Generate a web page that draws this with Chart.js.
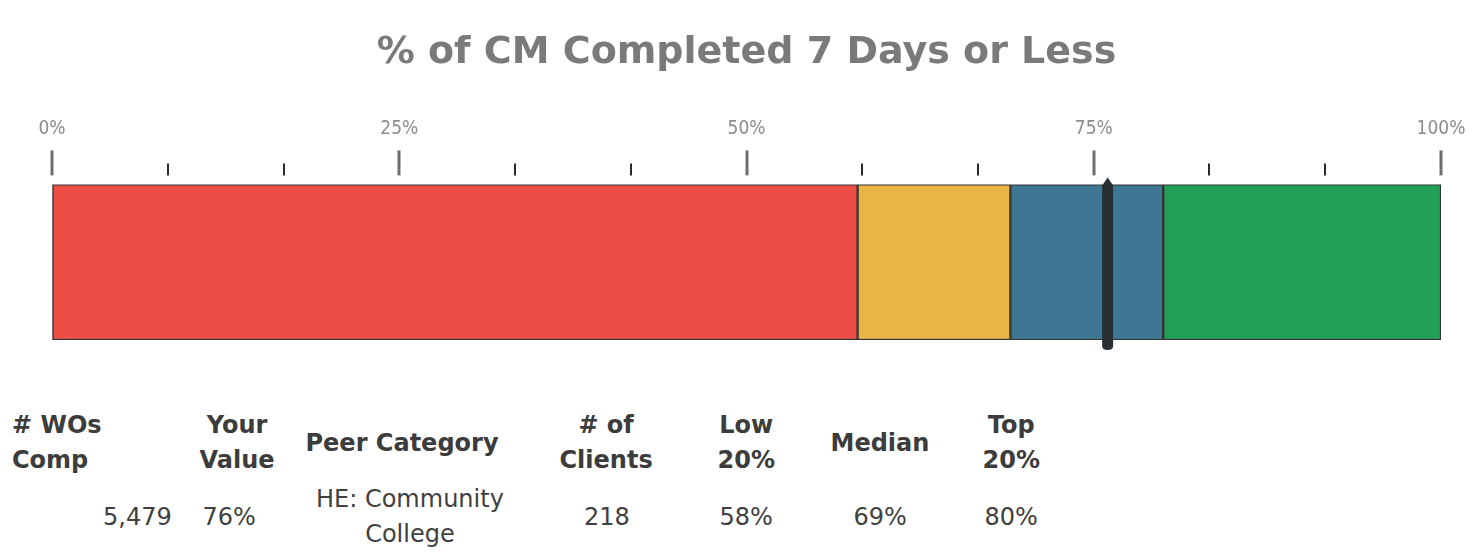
<!DOCTYPE html>
<html>
<head>
<meta charset="utf-8">
<script src="https://cdn.jsdelivr.net/npm/chart.js@4.4.1/dist/chart.umd.min.js"></script>
<style>
  html, body { margin: 0; padding: 0; background: #ffffff; }
  #wrap { position: relative; width: 1472px; height: 557px; overflow: hidden; }
  #chartBox { position: absolute; left: 0; top: 0; width: 1472px; height: 380px; }
  .cell { position: absolute; font-family: "DejaVu Sans", sans-serif; color: #3c3c3c; line-height: 35px; white-space: pre; }
  .hdr { font-weight: bold; font-size: 24px; }
  .val { font-size: 24px; color: #404040; }
</style>
</head>
<body>
<div id="wrap">
  <div id="chartBox"><canvas id="c"></canvas></div>
  <div id="table"></div>
</div>
<script>
// ---- data ----
const chartTitle = '% of CM Completed 7 Days or Less';
const segmentNames = ['Low', 'Lower-Mid', 'Upper-Mid', 'Top'];
const segmentStarts = [0, 58, 69, 80];
const segmentEnds = [58, 69, 80, 100];
const segmentColors = ['#EE4D45', '#EAB446', '#3D7794', '#22A055'];
const yourValue = 76;
const tickValues = [0, 8.333, 16.667, 25, 33.333, 41.667, 50, 58.333, 66.667, 75, 83.333, 91.667, 100];
const majorTickValues = [0, 25, 50, 75, 100];
const tableHeaders = ['# WOs\nComp', 'Your\nValue', 'Peer Category', '# of\nClients', 'Low\n20%', 'Median', 'Top\n20%'];
const tableValues = ['5,479', '76%', 'HE: Community\nCollege', '218', '58%', '69%', '80%'];

// ---- table layout ----
const colLayout = [
  { hx: 12, hAlign: 'left', vx: 172, vAlign: 'right' },
  { hx: 237, hAlign: 'center', vx: 229, vAlign: 'center' },
  { hx: 402, hAlign: 'center', vx: 410, vAlign: 'center' },
  { hx: 606, hAlign: 'center', vx: 607, vAlign: 'center' },
  { hx: 746, hAlign: 'center', vx: 746, vAlign: 'center' },
  { hx: 880, hAlign: 'center', vx: 880, vAlign: 'center' },
  { hx: 1011, hAlign: 'center', vx: 1011, vAlign: 'center' }
];
function placeCell(parent, text, cls, x, align, centerY) {
  const d = document.createElement('div');
  d.className = 'cell ' + cls;
  d.textContent = text;
  d.style.textAlign = align;
  parent.appendChild(d);
  const w = d.offsetWidth, h = d.offsetHeight;
  let left = x;
  if (align === 'center') left = x - w / 2;
  if (align === 'right') left = x - w;
  d.style.left = left + 'px';
  d.style.top = (centerY - h / 2) + 'px';
}
const tbl = document.getElementById('table');
tableHeaders.forEach((h, i) => placeCell(tbl, h, 'hdr', colLayout[i].hx, colLayout[i].hAlign, 443));
tableValues.forEach((v, i) => placeCell(tbl, v, 'val', colLayout[i].vx, colLayout[i].vAlign, 517));

// ---- chart ----
const tickMarks = {
  id: 'tickMarks',
  afterDraw(chart) {
    const sx = chart.scales.x, ctx = chart.ctx;
    const bottom = chart.chartArea.top - 9;
    ctx.save();
    tickValues.forEach(v => {
      const x = Math.round(sx.getPixelForValue(v));
      const major = majorTickValues.some(m => Math.abs(m - v) < 0.01);
      ctx.beginPath();
      ctx.strokeStyle = major ? '#6e6e6e' : '#2b2b2b';
      ctx.lineWidth = major ? 3 : 2;
      ctx.moveTo(x, bottom - (major ? 25 : 12));
      ctx.lineTo(x, bottom);
      ctx.stroke();
    });
    ctx.restore();
  }
};
const marker = {
  id: 'marker',
  afterDatasetsDraw(chart) {
    const sx = chart.scales.x, ctx = chart.ctx, ca = chart.chartArea;
    const x = sx.getPixelForValue(yourValue);
    const w = 11, top = ca.top - 3, bot = ca.bottom + 10;
    ctx.save();
    ctx.fillStyle = '#283034';
    ctx.beginPath();
    ctx.moveTo(x - w / 2, top + 4);
    ctx.lineTo(x, top - 4);
    ctx.lineTo(x + w / 2, top + 4);
    ctx.lineTo(x + w / 2, bot - 4);
    ctx.quadraticCurveTo(x + w / 2, bot, x, bot);
    ctx.quadraticCurveTo(x - w / 2, bot, x - w / 2, bot - 4);
    ctx.closePath();
    ctx.fill();
    ctx.restore();
  }
};

const datasets = segmentNames.map((n, i) => ({
  label: n,
  data: [[segmentStarts[i], segmentEnds[i]]],
  backgroundColor: segmentColors[i],
  borderColor: '#333333',
  borderWidth: 1.5,
  borderSkipped: false,
  barPercentage: 1,
  categoryPercentage: 1,
  grouped: false
}));

new Chart(document.getElementById('c'), {
  type: 'bar',
  data: { labels: ['value'], datasets },
  options: {
    indexAxis: 'y',
    responsive: true,
    maintainAspectRatio: false,
    animation: false,
    layout: { autoPadding: false, padding: { left: 52, right: 31, top: 0, bottom: 40 } },
    plugins: {
      legend: { display: false },
      tooltip: { enabled: false },
      title: {
        display: true,
        text: chartTitle,
        color: '#7a7a7a',
        font: { family: 'DejaVu Sans', size: 38, weight: 'bold' },
        padding: { top: 30, bottom: 29 }
      }
    },
    scales: {
      x: {
        position: 'top',
        min: 0, max: 100,
        afterBuildTicks(scale) { scale.ticks = tickValues.map(v => ({ value: v })); },
        afterFit(scale) { scale.paddingLeft = 0; scale.paddingRight = 0; },
        border: { display: false },
        grid: { display: true, drawOnChartArea: false, drawTicks: true, tickLength: 31, color: 'transparent', tickColor: 'transparent' },
        ticks: {
          autoSkip: false, maxRotation: 0, minRotation: 0, padding: 13,
          color: '#8c8c8c',
          font: { family: 'DejaVu Sans Condensed', size: 19 },
          callback(v) {
            const m = majorTickValues.find(t => Math.abs(t - v) < 0.01);
            return m === undefined ? '' : m + '%';
          }
        }
      },
      y: { display: false }
    }
  },
  plugins: [tickMarks, marker]
});
</script>
</body>
</html>
